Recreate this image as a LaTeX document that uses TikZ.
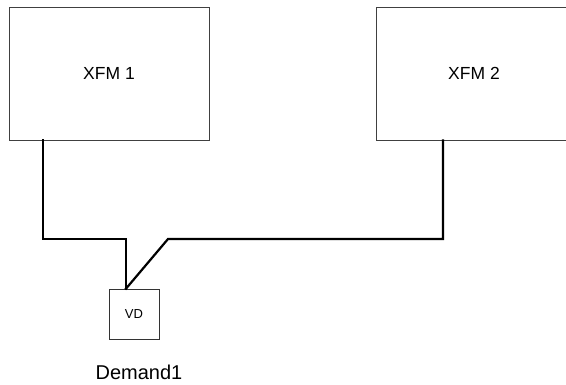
\documentclass[tikz,border=0pt]{standalone}
\usepackage{fontspec}
\setmainfont{Liberation Sans}
\begin{document}
\begin{tikzpicture}[x=1pt,y=-1pt,
  xfm/.style={rectangle,draw=black!75,line width=0.8pt,inner sep=0pt,font=\fontsize{17.5}{20}\selectfont},
  wire/.style={line width=2.2pt,line cap=rect}]
\useasboundingbox (0,0) rectangle (566,385);
\node [xfm,minimum width=200pt,minimum height=133pt] (xfm1) at (109,73.5) {XFM 1};
\node [xfm,minimum width=196pt,minimum height=133pt] (xfm2) at (474,73.5) {XFM 2};
\node [rectangle,draw=black!80,line width=0.7pt,minimum size=50pt,inner sep=0pt,
  font=\fontsize{13}{15}\selectfont] (vd) at (134,314) {VD};
\node [font=\fontsize{20}{23}\selectfont] (dem) at (139,372) {Demand1};
\coordinate (j1) at (43,239);
\coordinate (j2) at (126,239);
\coordinate (j3) at (168,239);
\coordinate (j4) at (443,239);
\draw [wire] (xfm1.south -| j1) -- (j1) -- (j2) -- (vd.north -| j2);
\draw [wire] (xfm2.south -| j4) -- (j4) -- (j3) -- (vd.north -| j2);
\end{tikzpicture}
\end{document}
